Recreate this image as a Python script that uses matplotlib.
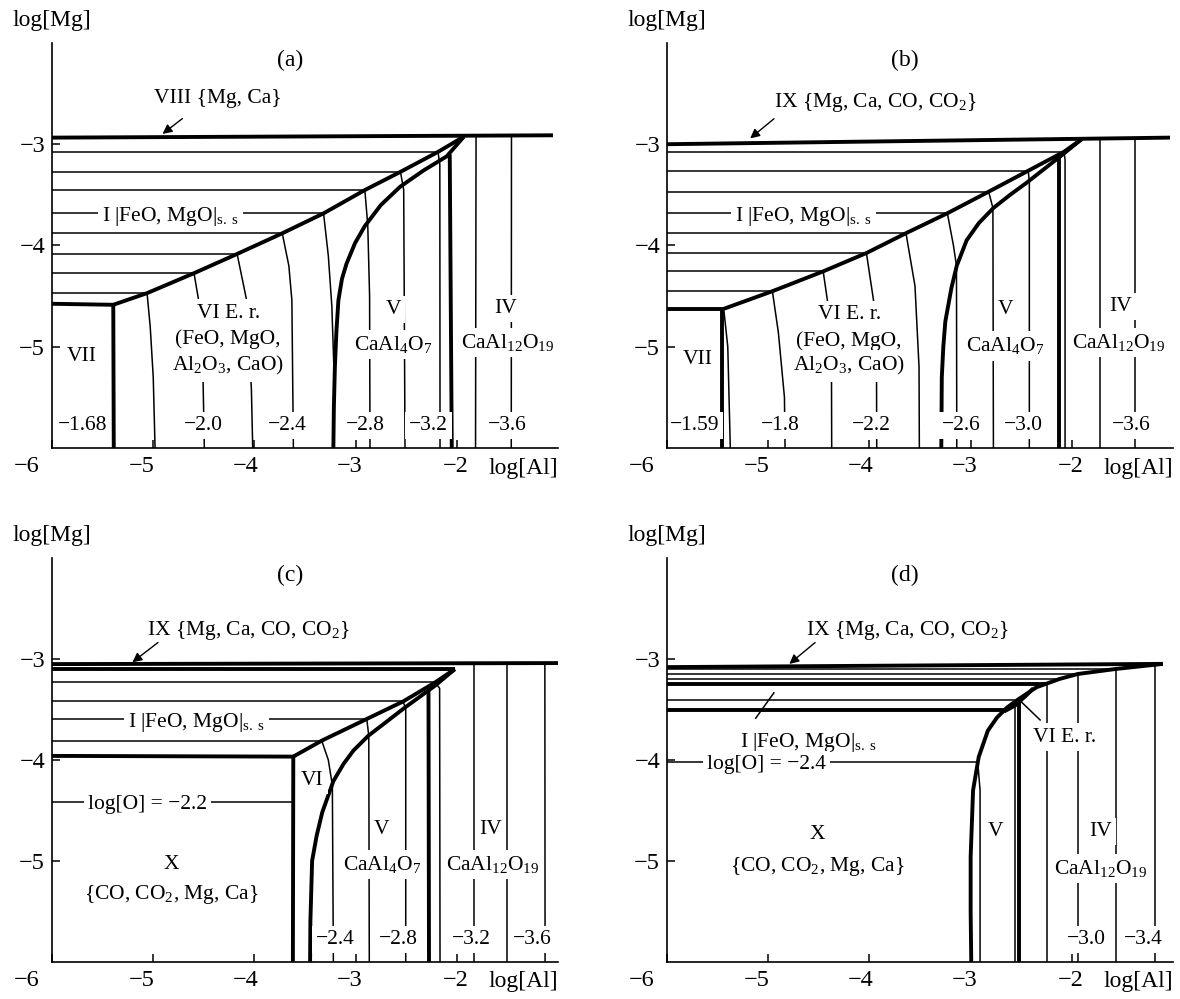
import matplotlib
matplotlib.use('Agg')
import matplotlib.pyplot as plt
import matplotlib.transforms as mtransforms

plt.rcParams['font.family'] = ['Liberation Serif', 'DejaVu Serif']
plt.rcParams['mathtext.fontset'] = 'custom'
plt.rcParams['mathtext.rm'] = 'Liberation Serif'
plt.rcParams['mathtext.it'] = 'Liberation Serif:italic'
plt.rcParams['mathtext.bf'] = 'Liberation Serif:bold'

M = '\u2212'
FEO = r'I |FeO, MgO|$_{\mathrm{s.\ s}}$'
IX = r'IX {Mg, Ca, CO, CO$_{\mathrm{2}}$}'
CA4 = r'CaAl$_{\mathrm{4}}$O$_{\mathrm{7}}$'
CA12 = r'CaAl$_{\mathrm{12}}$O$_{\mathrm{19}}$'
AL2 = r'Al$_{\mathrm{2}}$O$_{\mathrm{3}}$, CaO)'
XGAS = r'{CO, CO$_{\mathrm{2}}$, Mg, Ca}'

x_ticks = [-6, -5, -4, -3, -2]
y_ticks = [-5, -4, -3]
xtick_dx = [-18, -8, -6, -4, -1]   # label shift, points
value_y = -5.78

# ---------------- panel (a)
a_top = [(-6, -2.935), (-1.05, -2.912)]
a_upper = [(-5.395, -4.586), (-5.061, -4.471), (-4.597, -4.274), (-4.171, -4.084),
           (-3.725, -3.880), (-3.317, -3.683), (-2.909, -3.453), (-2.557, -3.273),
           (-2.186, -3.076), (-1.93, -2.925)]
a_vii = [(-6, -4.576), (-5.395, -4.586), (-5.39, -6)]
a_lower = [(-3.22, -6), (-3.215, -5.6), (-3.205, -5.2), (-3.19, -4.85), (-3.17, -4.54),
           (-3.135, -4.33), (-3.09, -4.18), (-3.005, -3.975), (-2.91, -3.81),
           (-2.75, -3.60), (-2.56, -3.42), (-2.33, -3.26), (-2.10, -3.12), (-1.93, -2.925)]
a_wall = [(-2.07, -3.10), (-2.05, -6)]
a_tie_y = [-4.471, -4.274, -4.084, -3.880, -3.683, -3.453, -3.273, -3.076]
a_tie_x = [-5.061, -4.597, -4.171, -3.725, -3.317, -2.909, -2.557, -2.186]
a_iso = [
    [(-5.061, -4.471), (-5.03, -4.8), (-5.0, -5.3), (-4.982, -6)],
    [(-4.597, -4.274), (-4.55, -4.55), (-4.51, -5.2), (-4.495, -6)],
    [(-4.171, -4.084), (-4.078, -4.537), (-4.03, -5.42), (-4.017, -6)],
    [(-3.725, -3.880), (-3.66, -4.2), (-3.63, -4.54), (-3.615, -6)],
    [(-3.317, -3.683), (-3.27, -4.1), (-3.235, -4.6), (-3.215, -5.2)],
    [(-2.909, -3.453), (-2.88, -3.8), (-2.862, -4.5), (-2.858, -6)],
    [(-2.557, -3.273), (-2.525, -3.45), (-2.512, -6)],
    [(-2.186, -3.076), (-2.168, -3.2), (-2.166, -6)],
    [(-1.81, -2.918), (-1.815, -6)],
    [(-1.46, -2.914), (-1.462, -6)],
]
a_labels = [
    (-4.36, -2.55, 'VIII {Mg, Ca}'),
    (-4.83, -3.683, FEO),
    (-4.26, -4.668, 'VI E. r.'),
    (-4.26, -4.93, '(FeO, MgO,'),
    (-4.26, -5.19, AL2),
    (-5.71, -5.095, 'VII'),
    (-2.63, -4.635, 'V'),
    (-2.63, -4.98, CA4),
    (-1.52, -4.62, 'IV'),
    (-1.50, -4.96, CA12),
]
a_values = [(-5.70, M + '1.68'), (-4.505, M + '2.0'), (-3.68, M + '2.4'),
            (-2.907, M + '2.8'), (-2.28, M + '3.2'), (-1.50, M + '3.6')]
a_arrow = [(-4.69, -2.73), (-4.93, -2.915)]

# ---------------- panel (b)
b_top = [(-6, -3.0), (-1.03, -2.935)]
b_upper = [(-5.44, -4.626), (-4.959, -4.452), (-4.457, -4.256), (-4.03, -4.075),
           (-3.639, -3.879), (-3.23, -3.682), (-2.822, -3.469), (-2.431, -3.262),
           (-2.078, -3.075), (-1.90, -2.948)]
b_vii = [(-6, -4.626), (-5.44, -4.626)]
b_vii_wall = [(-5.46, -4.626), (-5.46, -6)]
b_lower = [(-3.29, -6), (-3.285, -5.3), (-3.27, -5.0), (-3.25, -4.75), (-3.19, -4.42),
           (-3.137, -4.2), (-3.04, -3.95), (-2.92, -3.78), (-2.775, -3.63), (-2.61, -3.50),
           (-2.446, -3.38), (-2.28, -3.25), (-2.117, -3.123), (-1.90, -2.948)]
b_wall = [(-2.123, -3.125), (-2.123, -6)]
b_tie_y = [-4.452, -4.256, -4.075, -3.879, -3.682, -3.469, -3.262, -3.075]
b_tie_x = [-4.959, -4.457, -4.03, -3.639, -3.23, -2.822, -2.431, -2.078]
b_iso = [
    [(-5.44, -4.626), (-5.40, -5.0), (-5.375, -6)],
    [(-4.959, -4.452), (-4.90, -4.86), (-4.84, -5.5), (-4.834, -6)],
    [(-4.457, -4.256), (-4.40, -4.65), (-4.375, -5.3), (-4.373, -6)],
    [(-4.03, -4.075), (-3.96, -4.54), (-3.93, -5.3), (-3.928, -6)],
    [(-3.639, -3.879), (-3.55, -4.4), (-3.51, -5.2), (-3.507, -6)],
    [(-3.23, -3.682), (-3.17, -4.0), (-3.14, -4.2), (-3.137, -6)],
    [(-2.822, -3.469), (-2.78, -3.63), (-2.775, -6)],
    [(-2.431, -3.262), (-2.42, -3.37), (-2.42, -6)],
    [(-2.078, -3.075), (-2.067, -3.15), (-2.067, -6)],
    [(-1.72, -2.945), (-1.72, -6)],
    [(-1.372, -2.94), (-1.372, -6)],
]
b_labels = [
    (-3.94, -2.584, IX),
    (-4.65, -3.682, FEO),
    (-4.20, -4.682, 'VI E. r.'),
    (-4.20, -4.944, '(FeO, MgO,'),
    (-4.20, -5.19, AL2),
    (-5.70, -5.125, 'VII'),
    (-2.654, -4.633, 'V'),
    (-2.654, -4.993, CA4),
    (-1.52, -4.60, 'IV'),
    (-1.54, -4.96, CA12),
]
b_values = [(-5.73, M + '1.59'), (-4.88, M + '1.8'), (-3.98, M + '2.2'),
            (-3.09, M + '2.6'), (-2.48, M + '3.0'), (-1.41, M + '3.6')]
b_arrow = [(-4.922, -2.731), (-5.20, -2.96)]

# ---------------- panel (c)
c_top = [(-6, -3.05), (-1.0, -3.04)]
c_second = [(-6, -3.10), (-2.02, -3.10)]
c_upper = [(-3.616, -3.967), (-3.335, -3.809), (-2.89, -3.594), (-2.53, -3.42),
           (-2.215, -3.232), (-2.02, -3.10)]
c_x = [(-6, -3.96), (-3.616, -3.967), (-3.62, -6)]
c_lower = [(-3.45, -6), (-3.447, -5.6), (-3.43, -5.0), (-3.385, -4.75), (-3.33, -4.52),
           (-3.22, -4.21), (-3.12, -4.04), (-3.02, -3.905), (-2.874, -3.76), (-2.512, -3.48),
           (-2.215, -3.264), (-2.02, -3.10)]
c_wall = [(-2.28, -3.31), (-2.275, -6)]
c_tie_y = [-3.809, -3.594, -3.42, -3.232]
c_tie_x = [-3.335, -2.89, -2.53, -2.215]
c_logO = [(-6, -4.414), (-3.62, -4.414)]
c_iso = [
    [(-3.335, -3.809), (-3.27, -4.0), (-3.23, -4.25), (-3.22, -6)],
    [(-2.89, -3.594), (-2.87, -3.76), (-2.865, -6)],
    [(-2.53, -3.42), (-2.505, -3.5), (-2.505, -6)],
    [(-2.215, -3.232), (-2.17, -3.29), (-2.166, -6)],
    [(-1.83, -3.048), (-1.83, -6)],
    [(-1.50, -3.046), (-1.50, -6)],
    [(-1.13, -3.042), (-1.128, -6)],
]
c_labels = [
    (-4.06, -2.72, IX),
    (-4.57, -3.594, FEO),
    (-3.43, -4.20, 'VI'),
    (-5.06, -4.414, 'log[O] = ' + M + '2.2'),
    (-2.742, -4.694, 'V'),
    (-2.742, -5.039, CA4),
    (-1.666, -4.694, 'IV'),
    (-1.647, -5.039, CA12),
    (-4.82, -5.039, 'X'),
    (-4.82, -5.336, XGAS),
]
c_values = [(-3.20, M + '2.4'), (-2.575, M + '2.8'), (-1.86, M + '3.2'), (-1.25, M + '3.6')]
c_arrow = [(-4.931, -2.819), (-5.228, -3.049)]

# ---------------- panel (d)
d_top = [(-6, -3.08), (-1.1, -3.048)]
d_curve = [(-2.994, -6), (-3.0, -5.5), (-3.0, -4.96), (-2.976, -4.3), (-2.92, -3.97),
           (-2.83, -3.71), (-2.74, -3.58), (-2.64, -3.48), (-2.53, -3.40), (-2.35, -3.28),
           (-2.12, -3.197), (-1.94, -3.148), (-1.57, -3.099), (-1.1, -3.048)]
d_lens = [(-2.67, -3.52), (-2.56, -3.46), (-2.45, -3.36), (-2.38, -3.29)]
d_thick_tie_y = [-3.245, -3.51]
d_thick_tie_x = [-2.25, -2.67]
d_tie_y = [-3.10, -3.148, -3.197, -3.41]
d_tie_x = [-1.57, -1.94, -2.12, -2.56]
d_wall = [(-2.522, -3.43), (-2.522, -6)]
d_logO = [(-6, -4.02), (-2.93, -4.02)]
d_iso = [
    [(-2.93, -4.02), (-2.907, -4.3), (-2.907, -6)],
    [(-2.561, -3.46), (-2.561, -6)],
    [(-2.248, -3.243), (-2.248, -6)],
    [(-1.937, -3.148), (-1.937, -6)],
    [(-1.566, -3.099), (-1.566, -6)],
    [(-1.176, -3.053), (-1.176, -6)],
]
d_leaders = [
    [(-5.128, -3.592), (-4.94, -3.329)],
    [(-2.308, -3.609), (-2.53, -3.395)],
]
d_labels = [
    (-3.625, -2.72, IX),
    (-4.60, -3.789, FEO),
    (-5.02, -4.02, 'log[O] = ' + M + '2.4'),
    (-2.067, -3.773, 'VI E. r.'),
    (-4.516, -4.743, 'X'),
    (-4.516, -5.056, XGAS),
    (-2.753, -4.711, 'V'),
    (-1.714, -4.711, 'IV'),
    (-1.714, -5.072, CA12),
]
d_values = [(-1.86, M + '3.0'), (-1.29, M + '3.4')]
d_arrow = [(-4.516, -2.819), (-4.813, -3.066)]

THICK = 2.8
THIN = 1.1
TXT = 15.5


def line(ax, pts, lw):
    ax.plot([p[0] for p in pts], [p[1] for p in pts], color='k', lw=lw,
            solid_joinstyle='round', solid_capstyle='butt', zorder=2)


def setup(ax, tag, fig):
    ax.set_xlim(-6, -1)
    ax.set_ylim(-6, -2)
    ax.spines['top'].set_visible(False)
    ax.spines['right'].set_visible(False)
    for side in ['left', 'bottom']:
        ax.spines[side].set_linewidth(1.2)
        ax.spines[side].set_zorder(8)
    ax.set_xticks(x_ticks, [M + str(-t) for t in x_ticks])
    ax.set_yticks(y_ticks, [M + str(-t) for t in y_ticks])
    ax.tick_params(direction='in', length=6, width=1.1, labelsize=17.5)
    ax.tick_params(axis='x', pad=6)
    ax.tick_params(axis='y', pad=5)
    for lab, dx in zip(ax.get_xticklabels(), xtick_dx):
        lab.set_transform(lab.get_transform() +
                          mtransforms.ScaledTranslation(dx / 72, 0, fig.dpi_scale_trans))
    ax.text(0.0, 1.055, 'log[Mg]', transform=ax.transAxes, ha='center', va='center',
            fontsize=17)
    ax.text(-1.34, -6.2, 'log[Al]', ha='center', va='center', fontsize=17, clip_on=False)
    ax.text(-3.65, -2.17, tag, ha='center', va='center', fontsize=17)


def labels(ax, items, values):
    box = dict(fc='white', ec='none', pad=3.0)
    for x, y, s in items:
        va = 'center_baseline' if s == FEO or s.startswith('log') else 'center'
        ax.text(x, y, s, ha='center', va=va, fontsize=TXT, bbox=box, zorder=5)
    for x, s in values:
        ax.text(x, value_y, s, ha='center', va='center', fontsize=TXT, bbox=box, zorder=5)


def arrow(ax, pts):
    ax.annotate('', xy=pts[1], xytext=pts[0],
                arrowprops=dict(arrowstyle='-|>', color='k', lw=1.0, mutation_scale=14),
                zorder=6)


fig = plt.figure(figsize=(11.8, 9.99), dpi=100)
ax_a = fig.add_axes([0.0441, 0.5516, 0.4288, 0.4054])
ax_b = fig.add_axes([0.5653, 0.5516, 0.4288, 0.4054])
ax_c = fig.add_axes([0.0441, 0.0373, 0.4288, 0.4040])
ax_d = fig.add_axes([0.5653, 0.0373, 0.4288, 0.4040])

# (a)
ax = ax_a
setup(ax, '(a)', fig)
for pts in [a_top, a_upper, a_vii, a_lower, a_wall]:
    line(ax, pts, THICK)
for y, x in zip(a_tie_y, a_tie_x):
    line(ax, [(-6, y), (x, y)], THIN)
for pts in a_iso:
    line(ax, pts, THIN)
labels(ax, a_labels, a_values)
arrow(ax, a_arrow)

# (b)
ax = ax_b
setup(ax, '(b)', fig)
for pts in [b_top, b_upper, b_vii, b_vii_wall, b_lower, b_wall]:
    line(ax, pts, THICK)
for y, x in zip(b_tie_y, b_tie_x):
    line(ax, [(-6, y), (x, y)], THIN)
for pts in b_iso:
    line(ax, pts, THIN)
labels(ax, b_labels, b_values)
arrow(ax, b_arrow)

# (c)
ax = ax_c
setup(ax, '(c)', fig)
for pts in [c_top, c_second, c_upper, c_x, c_lower, c_wall]:
    line(ax, pts, THICK)
for y, x in zip(c_tie_y, c_tie_x):
    line(ax, [(-6, y), (x, y)], THIN)
line(ax, c_logO, THIN)
for pts in c_iso:
    line(ax, pts, THIN)
labels(ax, c_labels, c_values)
arrow(ax, c_arrow)

# (d)
ax = ax_d
setup(ax, '(d)', fig)
for pts in [d_top, d_curve, d_lens, d_wall]:
    line(ax, pts, THICK)
for y, x in zip(d_thick_tie_y, d_thick_tie_x):
    line(ax, [(-6, y), (x, y)], THICK)
for y, x in zip(d_tie_y, d_tie_x):
    line(ax, [(-6, y), (x, y)], THIN)
line(ax, d_logO, THIN)
for pts in d_iso + d_leaders:
    line(ax, pts, THIN)
labels(ax, d_labels, d_values)
arrow(ax, d_arrow)

fig.savefig('out.png', dpi=100)
